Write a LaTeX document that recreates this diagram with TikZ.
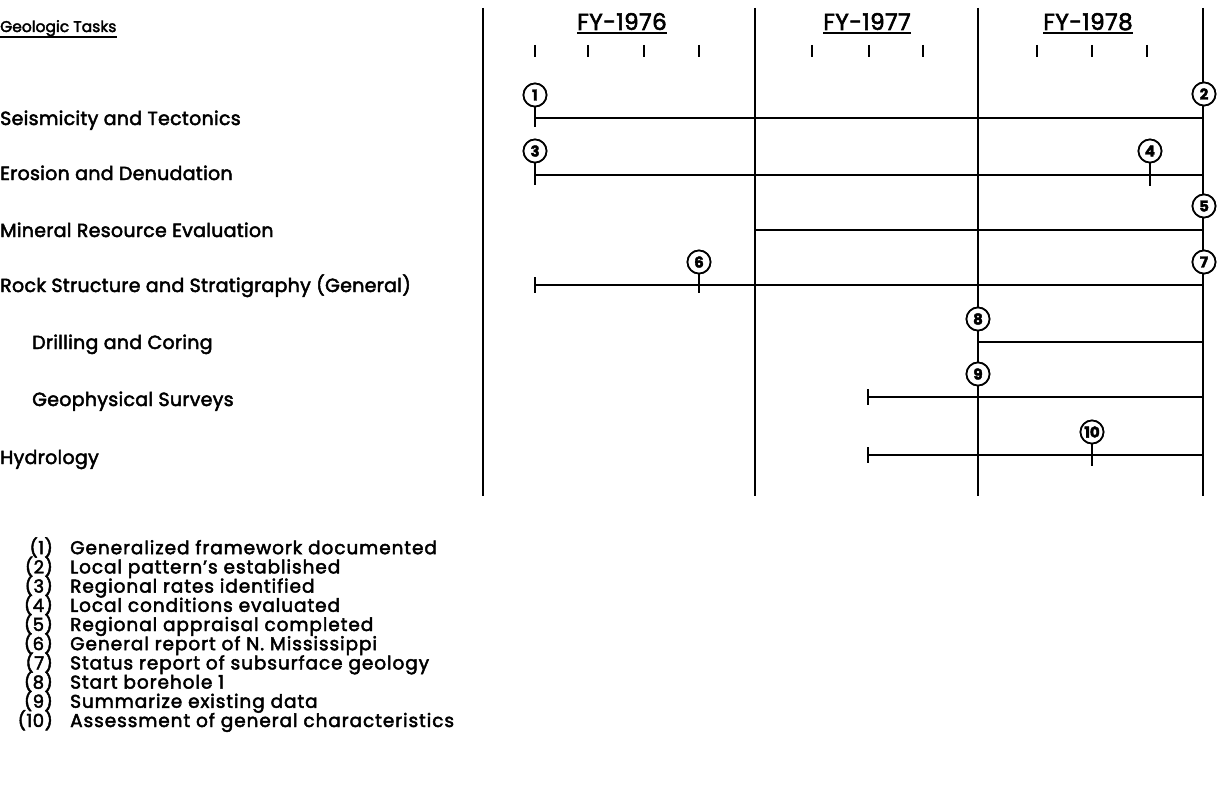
\documentclass[tikz,border=0pt]{standalone}
\usepackage{fontspec}
\setmainfont{Poppins}[FakeBold=2.5]
\begin{document}
\begin{tikzpicture}[x=1pt,y=-1pt,
  bar/.style={line width=2.6pt},
  vline/.style={line width=2pt},
  stem/.style={line width=1.9pt},
  qtick/.style={line width=1.9pt},
  ms/.style={circle,draw,line width=1.7pt,fill=white,minimum size=23pt,inner sep=0pt,font=\fontsize{15}{15}\selectfont\bfseries},
  task/.style={anchor=base west,inner sep=0pt,font=\fontsize{19}{20}\selectfont\addfontfeatures{LetterSpace=1.5}},
  fy/.style={anchor=base,inner sep=0pt,font=\fontsize{23}{24}\selectfont\addfontfeatures{LetterSpace=2}},
  leg/.style={anchor=base west,inner sep=0pt,font=\fontsize{18.5}{20}\selectfont\addfontfeatures{LetterSpace=5}},
  legn/.style={anchor=base east,inner sep=0pt,font=\fontsize{18}{20}\selectfont\addfontfeatures{LetterSpace=3}}]
\useasboundingbox (0,0) rectangle (1227,808);
% heading
\node[anchor=base west,inner sep=0pt,font=\fontsize{15.5}{17}\selectfont] (gt) at (0,32) {Geologic Tasks};
\draw[line width=1.2pt] ([yshift=-5pt]gt.base west) -- ([yshift=-5pt]gt.base east);
% vertical year lines
\coordinate (v0t) at (483,8); \coordinate (v0b) at (483,496);
\coordinate (v1t) at (755,8); \coordinate (v1b) at (755,496);
\coordinate (v2t) at (978,8); \coordinate (v2b) at (978,496);
\coordinate (v3t) at (1203,8); \coordinate (v3b) at (1203,496);
\draw[vline] (v0t) -- (v0b);
\draw[vline] (v1t) -- (v1b);
\draw[vline] (v2t) -- (v2b);
\draw[vline] (v3t) -- (v3b);
% FY headers
\node[fy] (fy76) at (622,30) {FY-1976};
\node[fy] (fy77) at (867,30) {FY-1977};
\node[fy] (fy78) at (1088,30) {FY-1978};
\foreach \n in {fy76,fy77,fy78}{\draw[line width=1.2pt] ([yshift=-3pt]\n.base west) -- ([yshift=-3pt]\n.base east);}
% quarter ticks
\foreach \x in {535,588,644,699,812,869,923,1037,1092,1147}{\draw[qtick] (\x,45) -- (\x,57);}
% task labels
\node[task] (t1) at (0,125) {Seismicity and Tectonics};
\node[task] (t2) at (0,180) {Erosion and Denudation};
\node[task] (t3) at (0,237) {Mineral Resource Evaluation};
\node[task] (t4) at (0,292) {Rock Structure and Stratigraphy (General)};
\node[task] (t5) at (32,349) {Drilling and Coring};
\node[task] (t6) at (32,406) {Geophysical Surveys};
\node[task] (t7) at (0,464) {Hydrology};
% bars
\coordinate (b1s) at (535,118); \coordinate (b1e) at (1203,118);
\coordinate (b2s) at (535,175); \coordinate (b2e) at (1203,175);
\coordinate (b3s) at (755,230); \coordinate (b3e) at (1203,230);
\coordinate (b4s) at (535,285); \coordinate (b4e) at (1203,285);
\coordinate (b5s) at (978,342); \coordinate (b5e) at (1203,342);
\coordinate (b6s) at (868,397); \coordinate (b6e) at (1203,397);
\coordinate (b7s) at (868,455); \coordinate (b7e) at (1203,455);
\foreach \i in {1,...,7}{\draw[bar] (b\i s) -- (b\i e);}
% start caps
\draw[stem] (b4s)++(0,-8) -- ++(0,16);
\draw[stem] (b6s)++(0,-8) -- ++(0,16);
\draw[stem] (b7s)++(0,-8) -- ++(0,16);
% milestones
\node[ms] (m1) at (535,95) {1};
\node[ms] (m2) at (1204,94) {2};
\node[ms] (m3) at (535,151) {3};
\node[ms] (m4) at (1150,151) {4};
\node[ms] (m5) at (1204,206) {5};
\node[ms] (m6) at (699,262) {6};
\node[ms] (m7) at (1204,262) {7};
\node[ms] (m8) at (978,319) {8};
\node[ms] (m9) at (978,374) {9};
\node[ms] (m10) at (1092,432) {10};
\coordinate (k1) at (535,127);
\coordinate (k3) at (535,185);
\coordinate (k4) at (1150,186);
\coordinate (k6) at (699,293);
\coordinate (k10) at (1092,466);
\draw[stem] (m1) -- (k1);
\draw[stem] (m3) -- (k3);
\draw[stem] (m4) -- (k4);
\draw[stem] (m6) -- (k6);
\draw[stem] (m10) -- (k10);
\node[ms] at (m1) {1};
\node[ms] at (m2) {2};
\node[ms] at (m3) {3};
\node[ms] at (m4) {4};
\node[ms] at (m5) {5};
\node[ms] at (m6) {6};
\node[ms] at (m7) {7};
\node[ms] at (m8) {8};
\node[ms] at (m9) {9};
\node[ms] at (m10) {10};
% legend
\foreach \n/\t [count=\k] in {1/Generalized framework documented,2/Local pattern's established,3/Regional rates identified,4/Local conditions evaluated,5/Regional appraisal completed,6/General report of N. Mississippi,7/Status report of subsurface geology,8/Start borehole 1,9/Summarize existing data,10/Assessment of general characteristics}{
  \node[legn] (ln\k) at (53,{535+19.2*\k}) {(\n)};
  \node[leg] (lt\k) at (70,{535+19.2*\k}) {\t};
}
\end{tikzpicture}
\end{document}
